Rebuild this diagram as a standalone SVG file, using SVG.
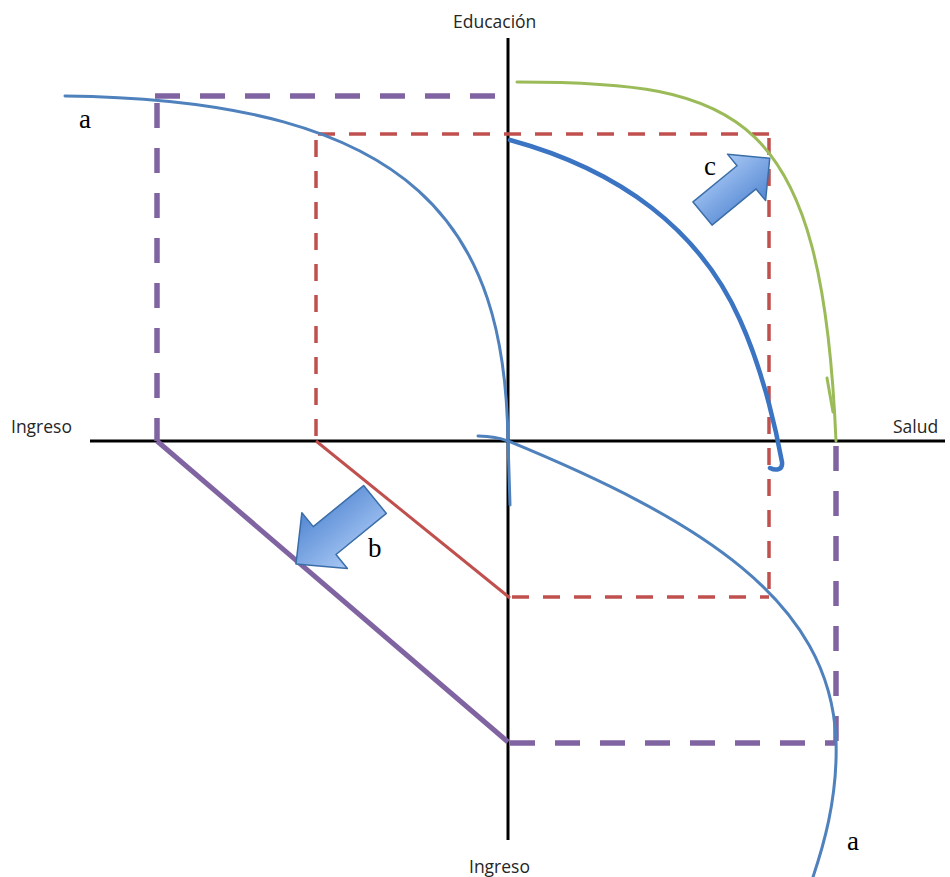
<svg xmlns="http://www.w3.org/2000/svg" width="950" height="877" viewBox="0 0 950 877">
<style>
.axis{stroke:#000;stroke-width:3;fill:none}
.lbl{font-family:"Open Sans","Liberation Sans",sans-serif;font-size:17.5px;fill:#262626}
.ser{font-family:"Liberation Serif",serif;font-size:27px;fill:#000}
.pd{stroke:#8064a2;stroke-width:5.5;stroke-dasharray:25 20;fill:none}
.ps{stroke:#8064a2;stroke-width:5;fill:none}
.rd{stroke:#c0504d;stroke-width:3.5;stroke-dasharray:17 14;fill:none}
.rs{stroke:#c0504d;stroke-width:3;fill:none}
.bl{stroke:#4f81bd;stroke-width:3;fill:none;stroke-linecap:round}
.bd{stroke:#3b74c2;stroke-width:4.5;fill:none;stroke-linecap:round;stroke-linejoin:round}
.gr{stroke:#9bbb59;stroke-width:3;fill:none;stroke-linecap:round}
.arr{fill:url(#ag);stroke:#3a6ea8;stroke-width:1.5;stroke-linejoin:round}
</style>
<defs>
<linearGradient id="ag" x1="0" y1="0" x2="0" y2="1">
<stop offset="0" stop-color="#a8c8f5"/>
<stop offset="1" stop-color="#5387d2"/>
</linearGradient>
</defs>
<rect width="950" height="877" fill="#fff"/>
<g id="axes">
<line class="axis" x1="90" y1="441" x2="945" y2="441"/>
<line class="axis" x1="508" y1="38" x2="508" y2="840"/>
</g>
<g id="labels">
<text class="lbl" x="453" y="28">Educación</text>
<text class="lbl" x="11" y="433">Ingreso</text>
<text class="lbl" x="893" y="433">Salud</text>
<text class="lbl" x="469" y="873">Ingreso</text>
</g>
<g id="purple">
<line class="pd" x1="155" y1="96" x2="508" y2="96"/>
<line class="pd" x1="157" y1="103" x2="157" y2="441"/>
<line class="ps" x1="157" y1="441" x2="508" y2="742"/>
<line class="pd" x1="510" y1="743" x2="836" y2="743"/>
<line class="pd" x1="836" y1="446" x2="836" y2="743"/>
</g>
<g id="red">
<line class="rd" x1="318" y1="134" x2="770" y2="134"/>
<line class="rd" x1="316" y1="140" x2="316" y2="441"/>
<line class="rs" x1="316" y1="441" x2="510" y2="598"/>
<line class="rd" x1="512" y1="597" x2="769" y2="597"/>
<line class="rd" x1="769" y1="138" x2="769" y2="597"/>
</g>
<g id="curve-a">
<path class="bl" d="M65,96 C420,100 505,230 508,441 L510,505"/>
<path class="bl" d="M478,436 C500,437 505,440 508,441 C700,520 830,600 836,740 C838,800 822,850 813,877"/>
</g>
<g id="curve-dark">
<path class="bd" d="M510,140 C620,170 700,230 740,320 C765,375 778,440 782,462 C783,470 776,471 770,468"/>
</g>
<g id="curve-green">
<path class="gr" d="M517,82 C740,82 822,110 836,441"/>
<path class="gr" d="M827,378 L833,412"/>
</g>
<g id="arrow-c">
<path class="arr" transform="translate(702.5,213.5) rotate(-39.4)" d="M0,-15 L57,-15 L57,-30 L87,0 L57,30 L57,15 L0,15 Z"/>
<text class="ser" x="704" y="175">c</text>
</g>
<g id="arrow-b">
<path class="arr" transform="translate(375,499.5) rotate(140.8)" d="M0,-18 L65,-18 L65,-36 L102,0 L65,36 L65,18 L0,18 Z"/>
<text class="ser" x="368" y="557">b</text>
</g>
<g id="text-a">
<text class="ser" x="79" y="128">a</text>
<text class="ser" x="847" y="850">a</text>
</g>
</svg>
